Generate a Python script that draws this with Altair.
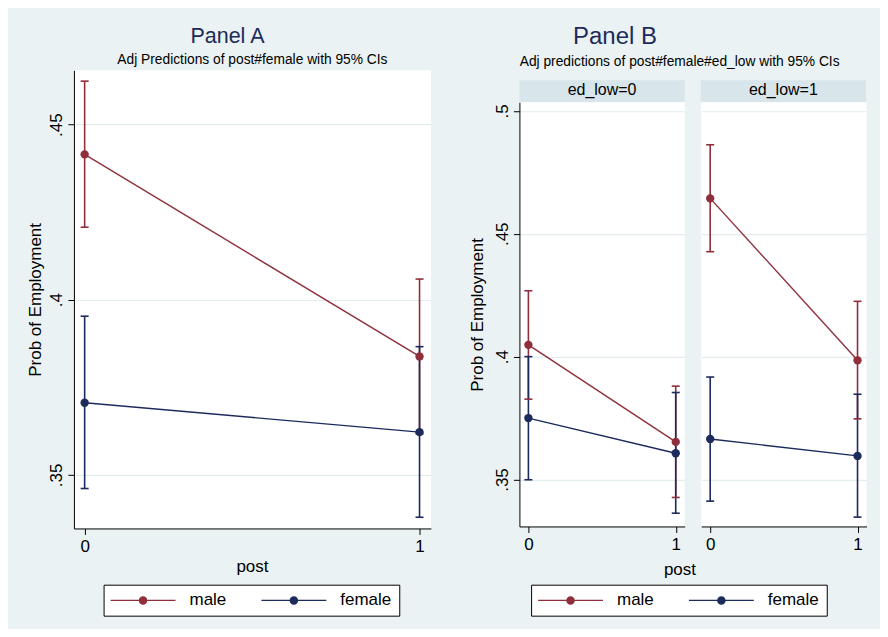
import altair as alt
import pandas as pd

# ---------------- data ----------------
posts = [0, 1]
sexes = ["male", "female"]
sex_colors = ["#8f2f3b", "#1c2b5c"]

# Panel A: post x female
a_male_est = [0.4415, 0.3838]
a_male_lo = [0.4207, 0.3617]
a_male_hi = [0.4624, 0.4059]
a_female_est = [0.3706, 0.3622]
a_female_lo = [0.3461, 0.3379]
a_female_hi = [0.3953, 0.3866]

# Panel B, ed_low = 0
b0_male_est = [0.4048, 0.3653]
b0_male_lo = [0.3827, 0.3427]
b0_male_hi = [0.4268, 0.3880]
b0_female_est = [0.3750, 0.3607]
b0_female_lo = [0.3499, 0.3363]
b0_female_hi = [0.4000, 0.3854]

# Panel B, ed_low = 1
b1_male_est = [0.4644, 0.3985]
b1_male_lo = [0.4427, 0.3747]
b1_male_hi = [0.4862, 0.4225]
b1_female_est = [0.3665, 0.3596]
b1_female_lo = [0.3412, 0.3347]
b1_female_hi = [0.3917, 0.3847]

yticks_a = [0.35, 0.40, 0.45]
yticks_b = [0.35, 0.40, 0.45, 0.50]
xticks = [0, 1]
ydomain_a = [0.3347, 0.4655]
ydomain_b = [0.3309, 0.5035]
xdomain_a = [-0.032, 1.034]
xdomain_b = [-0.061, 1.061]

title_a = "Panel A"
subtitle_a = "Adj Predictions of post#female with 95% CIs"
title_b = "Panel B"
subtitle_b = "Adj predictions of post#female#ed_low with 95% CIs"
strip_labels = ["ed_low=0", "ed_low=1"]
x_title = "post"
y_title = "Prob of Employment"

# ---------------- styling ----------------
FONT = "Liberation Sans"
TITLE_COLOR = "#1c2b5a"
BG = "#EAF2F3"
STRIP = "#D8E5EB"
GRID = "#E3ECEF"

# legend symbol: a line with a dot in the middle (unit scale = sqrt(size)/2)
LEG_SYMBOL = ("M-3.82,-0.076L3.82,-0.076L3.82,0.076L-3.82,0.076Z "
              "M-0.5,0A0.5,0.5,0,1,1,0.5,0A0.5,0.5,0,1,1,-0.5,0Z")

# colour lookup for the stroke / fill scales (data-driven, alphabetical domain)
sorted_sexes = sorted(sexes)
sorted_colors = [sex_colors[sexes.index(s)] for s in sorted_sexes]


def make_df(me, ml, mh, fe, fl, fh):
    rows = []
    for sex, est, lo, hi in (("male", me, ml, mh), ("female", fe, fl, fh)):
        for p, e, l, h in zip(posts, est, lo, hi):
            rows.append(dict(post=p, sex=sex, est=e, lo=l, hi=h))
    return pd.DataFrame(rows)


def text_layer(txt, x, y, size, color="black"):
    return alt.Chart(pd.DataFrame({"t": [txt]})).mark_text(
        font=FONT, fontSize=size, color=color, align="center", baseline="alphabetic"
    ).encode(text="t:N", x=alt.value(x), y=alt.value(y))


def make_legend(pos):
    return alt.Legend(title=None, orient="none", legendX=pos[0], legendY=pos[1],
                      direction="horizontal", columns=2, symbolType=LEG_SYMBOL,
                      symbolSize=289, symbolStrokeWidth=0, symbolOpacity=1,
                      symbolOffset=24, labelOffset=38, columnPadding=35,
                      labelFontSize=17, labelFont=FONT, labelColor="black",
                      labelBaseline="middle", padding=7)


def data_layers(df, w, h, xdom, ydom, yticks, show_y, ytitle_x, leg):
    xs = alt.Scale(domain=xdom, nice=False, zero=False)
    ys = alt.Scale(domain=ydom, nice=False, zero=False)
    xax = alt.Axis(values=xticks, format="d", title=None, grid=False, tickSize=6,
                   labelPadding=4, labelFlush=False, labelOverlap=False)
    if show_y:
        yax = alt.Axis(values=yticks, title=y_title,
                       labelExpr="substring(format(datum.value, '.2~f'), 1)",
                       labelAngle=270, labelAlign="center", labelBaseline="alphabetic",
                       labelPadding=6, tickSize=6, labelFlush=False, labelOverlap=False,
                       titleAngle=270, titleX=ytitle_x, titleY=h / 2,
                       titleAlign="center", titleBaseline="alphabetic",
                       grid=True, gridColor=GRID, gridWidth=1.2)
    else:
        yax = alt.Axis(values=yticks, title=None, labels=False, ticks=False, domain=False,
                       grid=True, gridColor=GRID, gridWidth=1.2)
    X = alt.X("post:Q", scale=xs, axis=xax)
    legend_scale = alt.Scale(domain=sexes, range=sex_colors)
    mark_scale = alt.Scale(range=sorted_colors)
    stroke = alt.Stroke("sex:N", scale=mark_scale, legend=None)
    fill = alt.Fill("sex:N", scale=mark_scale, legend=None)
    base = alt.Chart(df)

    bars = base.mark_rule(strokeWidth=1.6).encode(
        x=X, y=alt.Y("lo:Q", scale=ys, axis=yax), y2="hi:Q", stroke=stroke)
    caps = base.transform_fold(["lo", "hi"], as_=["which", "bound"]).mark_tick(
        orient="horizontal", size=8, thickness=1.6, opacity=1).encode(
        x=X, y=alt.Y("bound:Q", scale=ys, axis=yax), fill=fill)
    lines = base.mark_line(strokeWidth=1.4).encode(
        x=X, y=alt.Y("est:Q", scale=ys, axis=yax), stroke=stroke)
    points = base.mark_point(filled=True, size=70, opacity=1).encode(
        x=X, y=alt.Y("est:Q", scale=ys, axis=yax),
        color=alt.Color("sex:N", scale=legend_scale, legend=leg))
    return [bars, caps, lines, points]


WHITE_VIEW = alt.ViewBackground(fill="white", stroke=None)

# ---------------- Panel A ----------------
WA, HA = 357.4, 458.7
df_a = make_df(a_male_est, a_male_lo, a_male_hi, a_female_est, a_female_lo, a_female_hi)
panel_a = alt.layer(
    *data_layers(df_a, WA, HA, xdomain_a, ydomain_a, yticks_a, True, -33.3,
                 make_legend((29.7, 515))),
    text_layer(title_a, 153.7, -27, 21.5, TITLE_COLOR),
    text_layer(subtitle_a, WA / 2, -6, 13.8),
    text_layer(x_title, WA / 2, 502, 17),
).properties(width=WA, height=HA, view=WHITE_VIEW)

# ---------------- Panel B ----------------
WB, HB = 165.5, 424.7
GAP_B = 16
WH = 2 * WB + GAP_B
df_b0 = make_df(b0_male_est, b0_male_lo, b0_male_hi, b0_female_est, b0_female_lo, b0_female_hi)
df_b1 = make_df(b1_male_est, b1_male_lo, b1_male_hi, b1_female_est, b1_female_lo, b1_female_hi)

# header: titles + facet strips (strips placed through a band scale)
strip_x = alt.X("label:N", scale=alt.Scale(domain=strip_labels, paddingInner=GAP_B / (WB + GAP_B),
                                           paddingOuter=0), axis=None)
strip_df = pd.DataFrame({"label": strip_labels})
strips = alt.Chart(strip_df).mark_rect(color=STRIP).encode(
    x=strip_x, y=alt.value(10), y2=alt.value(31.7))
strip_text = alt.Chart(strip_df).mark_text(
    font=FONT, fontSize=16, color="black", align="center", baseline="alphabetic").encode(
    x=strip_x, y=alt.value(25), text="label:N")
header_b = alt.layer(
    strips, strip_text,
    text_layer(title_b, 95.7, -26, 24, TITLE_COLOR),
    text_layer(subtitle_b, 160.4, -4, 13.8),
).properties(width=WH, height=32)

panel_b0 = alt.layer(
    *data_layers(df_b0, WB, HB, xdomain_b, ydomain_b, yticks_b, True, -37.3,
                 make_legend((11.7, 483))),
    text_layer(x_title, 160.7, 473, 17),
).properties(width=WB, height=HB, view=WHITE_VIEW)

panel_b1 = alt.layer(
    *data_layers(df_b1, WB, HB, xdomain_b, ydomain_b, yticks_b, False, 0, None),
).properties(width=WB, height=HB, view=WHITE_VIEW)

row_b = alt.HConcatChart(hconcat=[panel_b0, panel_b1], spacing=GAP_B, bounds="flush").resolve_scale(
    color="independent", fill="independent", stroke="independent", y="shared"
).resolve_legend(color="independent")

panel_b = alt.VConcatChart(vconcat=[header_b, row_b], spacing=0, bounds="flush").resolve_scale(
    color="independent", fill="independent", stroke="independent"
).resolve_legend(color="independent")

chart = alt.HConcatChart(hconcat=[panel_a, panel_b], spacing=36).resolve_scale(
    color="independent", fill="independent", stroke="independent"
).resolve_legend(color="independent").properties(
    background=BG,
    padding={"left": 18, "top": 17, "right": 13, "bottom": 12},
).configure_view(
    stroke=None
).configure_axis(
    domainColor="black", tickColor="black", labelColor="black", titleColor="black",
    labelFont=FONT, titleFont=FONT, labelFontSize=17, titleFontSize=17,
    titleFontWeight="normal", domainWidth=1, tickWidth=1,
).configure_legend(
    strokeColor="black", fillColor="white", cornerRadius=0,
)

chart.save("out.html", embed_options={"renderer": "svg", "actions": False})
